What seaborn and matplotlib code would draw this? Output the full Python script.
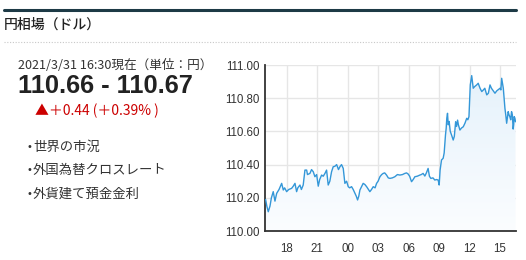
import numpy as np
import pandas as pd
import matplotlib
matplotlib.use("Agg")
import matplotlib.pyplot as plt
from matplotlib.colors import LinearSegmentedColormap
import seaborn as sns

# ---- data (hours since previous-day midnight, USD/JPY) ----
hours = [15.93, 16.19, 16.36, 16.68, 17.02, 17.51, 17.67, 18.00, 18.49, 18.82,
         18.98, 19.31, 19.63, 19.80, 19.97, 20.29, 20.62, 20.78, 21.11, 21.44,
         21.77, 21.93, 22.09, 22.42, 22.58, 22.92, 23.24, 23.57, 23.73, 24.06,
         24.39, 24.72, 24.98, 25.21, 25.53, 25.87, 26.19, 26.52, 26.85, 27.18,
         27.50, 27.83, 28.16, 28.65, 29.14, 29.63, 29.96, 30.29, 30.62, 31.11,
         31.43, 31.60, 31.92, 32.19, 32.58, 32.91, 33.01, 33.10, 33.24, 33.40,
         33.50, 33.63, 33.83, 33.99, 34.23, 34.39, 34.63, 34.82, 35.05, 35.38,
         35.72, 35.94, 36.07, 36.21, 36.36, 36.70, 37.03, 37.36, 37.69, 38.01,
         38.34, 38.67, 39.00, 39.16, 39.32, 39.48, 39.65, 39.80, 39.96, 40.13,
         40.29, 40.39, 40.52]
rates = [110.190, 110.116, 110.150, 110.237, 110.227, 110.287, 110.247, 110.237, 110.257, 110.287,
         110.237, 110.277, 110.277, 110.367, 110.367, 110.347, 110.357, 110.327, 110.270, 110.337,
         110.347, 110.367, 110.277, 110.357, 110.387, 110.400, 110.387, 110.377, 110.287, 110.267,
         110.267, 110.227, 110.187, 110.247, 110.287, 110.267, 110.237, 110.267, 110.287, 110.327,
         110.347, 110.337, 110.317, 110.327, 110.337, 110.347, 110.343, 110.297, 110.327, 110.337,
         110.347, 110.331, 110.377, 110.317, 110.307, 110.307, 110.277, 110.367, 110.428, 110.438,
         110.470, 110.578, 110.709, 110.660, 110.578, 110.548, 110.658, 110.668, 110.608, 110.628,
         110.679, 110.689, 110.880, 110.936, 110.860, 110.880, 110.860, 110.850, 110.820, 110.880,
         110.844, 110.844, 110.860, 110.920, 110.860, 110.739, 110.649, 110.719, 110.689, 110.719,
         110.614, 110.689, 110.658]
# extra detail readings of the fine wiggles
detail_hours = [16.05, 16.50, 16.85, 17.25, 17.80, 18.20, 18.65, 19.10, 19.45, 20.05,
                20.45, 20.95, 21.25, 21.60, 22.25, 22.75, 23.10, 23.40, 23.90, 24.20,
                24.55, 24.85, 25.10, 25.40, 25.70, 26.05, 26.35, 26.70, 27.00, 27.35,
                27.65, 28.00, 28.40, 28.90, 29.40, 29.80, 30.10, 30.45, 30.85, 31.25,
                31.75, 32.05, 32.40, 32.75, 33.70, 33.76, 33.90, 34.10, 34.50, 34.72,
                34.90, 35.20, 35.55, 35.83, 36.28, 36.50, 36.85, 37.20, 37.50, 37.85,
                38.15, 38.50, 38.80, 39.08, 39.56, 39.72, 39.88, 40.05, 40.21, 40.34,
                40.46]
detail_rates = [110.150, 110.200, 110.180, 110.250, 110.260, 110.250, 110.270, 110.260, 110.250, 110.340,
                110.370, 110.340, 110.310, 110.330, 110.300, 110.390, 110.370, 110.400, 110.300, 110.260,
                110.250, 110.210, 110.210, 110.270, 110.280, 110.250, 110.250, 110.260, 110.300, 110.340,
                110.350, 110.320, 110.320, 110.340, 110.340, 110.350, 110.330, 110.310, 110.330, 110.340,
                110.350, 110.330, 110.320, 110.310, 110.620, 110.680, 110.640, 110.600, 110.570, 110.630,
                110.640, 110.620, 110.650, 110.670, 110.900, 110.870, 110.890, 110.840, 110.860, 110.830,
                110.860, 110.830, 110.850, 110.850, 110.700, 110.680, 110.700, 110.670, 110.700, 110.640,
                110.680]
xtick_pos = [18, 21, 24, 27, 30, 33, 36, 39]
xtick_labels = ["18", "21", "00", "03", "06", "09", "12", "15"]
ytick_pos = [110.0, 110.2, 110.4, 110.6, 110.8, 111.0]

title = "円相場（ドル）"
stamp = "2021/3/31 16:30現在（単位：円）"
quote = "110.66 - 110.67"
change = "▲＋0.44 (＋0.39% )"
links = ["世界の市況", "外国為替クロスレート", "外貨建て預金金利"]

df = pd.concat([pd.DataFrame({"hour": hours, "rate": rates}),
                pd.DataFrame({"hour": detail_hours, "rate": detail_rates})])
df = df.sort_values("hour").reset_index(drop=True)

sns.set_style("white")
plt.rcParams["font.family"] = ["Liberation Sans", "DejaVu Sans"]
CJK = ["Noto Sans CJK JP", "DejaVu Sans"]

W, H = 526, 260
fig = plt.figure(figsize=(W / 100, H / 100), dpi=100)

def fx(px):
    return px / W

def fy(py):
    return 1 - py / H

# header
fig.add_artist(plt.Line2D([fx(4), fx(516)], [fy(10), fy(10)], color="#1d3a46", lw=2.2))
fig.text(fx(4), fy(25), title, family=CJK, fontsize=10, fontweight="medium", color="#222222",
         va="center", ha="left")
fig.add_artist(plt.Line2D([fx(4), fx(516)], [fy(41.5), fy(41.5)], color="#c8c8c8", lw=0.8,
                          linestyle=(0, (1, 1.5))))

# left panel
fig.text(fx(18), fy(65), stamp, family=CJK, fontsize=9.1, color="#333333", va="center", ha="left")
fig.text(fx(17.5), fy(86), quote, family=["Liberation Sans"], fontsize=18.3, fontweight="bold",
         color="#222222", va="center", ha="left")
fig.text(fx(35), fy(111), change, family=CJK, fontsize=10, color="#cc0000", va="center", ha="left")
for py, t in zip([147, 170, 194], links):
    fig.text(fx(26), fy(py), "•", family=["DejaVu Sans"], fontsize=7, color="#333333",
             va="center", ha="left")
    fig.text(fx(33), fy(py), t, family=CJK, fontsize=9.6, color="#333333", va="center", ha="left")

# chart
ax = fig.add_axes([fx(265), fy(231), fx(515.5) - fx(265), (231 - 65) / H])
xmin, xmax = 15.87, 40.52
ymin, ymax = 110.0, 111.0

poly = ax.fill_between(df["hour"], df["rate"], ymin, color="none", lw=0)
cmap = LinearSegmentedColormap.from_list("g", ["#fbfdff", "#e4f1fb"])
grad = np.linspace(0, 1, 256).reshape(-1, 1)
img = ax.imshow(grad, extent=[xmin, xmax, ymin, ymax], origin="lower", aspect="auto",
                cmap=cmap, zorder=1)
img.set_clip_path(poly.get_paths()[0], transform=ax.transData)

sns.lineplot(data=df, x="hour", y="rate", ax=ax, color="#3497d8", lw=1.0, zorder=3)

ax.set_xlim(xmin, xmax)
ax.set_ylim(ymin, ymax)
ax.set_xticks(xtick_pos)
ax.set_xticklabels(xtick_labels)
ax.set_yticks(ytick_pos)
ax.set_yticklabels([f"{v:.2f}" for v in ytick_pos])
ax.set_xlabel("")
ax.set_ylabel("")
ax.grid(True, color="#e6e6e6", lw=1)
ax.set_axisbelow(True)
ax.tick_params(axis="both", length=0, labelsize=8.3, labelcolor="#333333")
ax.tick_params(axis="x", pad=9)
ax.tick_params(axis="y", pad=4)
for s in ["top", "right"]:
    ax.spines[s].set_visible(False)
for s in ["left", "bottom"]:
    ax.spines[s].set_color("#333333")
    ax.spines[s].set_linewidth(1.3)

fig.savefig("out.png", dpi=100, facecolor="white")
